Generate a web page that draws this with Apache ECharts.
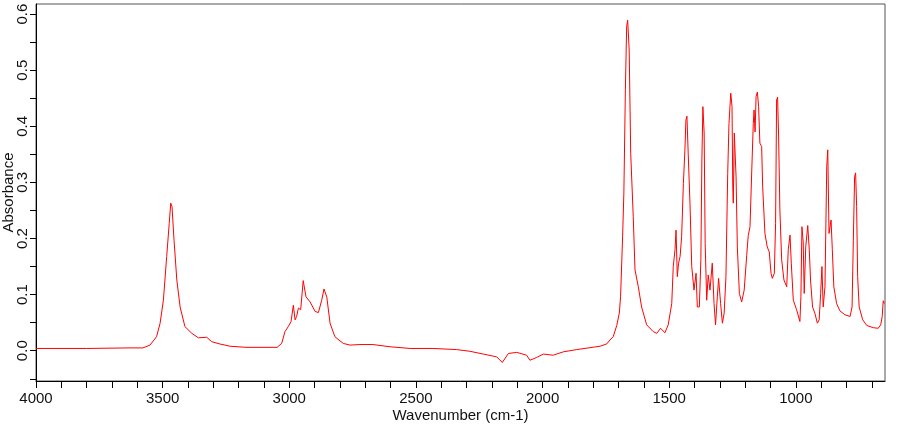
<!DOCTYPE html>
<html>
<head>
<meta charset="utf-8">
<script src="https://cdn.jsdelivr.net/npm/echarts@6/dist/echarts.min.js"></script>
<style>
  html, body { margin: 0; padding: 0; background: #fff; }
  #ir_chart { width: 910px; height: 425px; }
</style>
</head>
<body>
<div id="ir_chart"></div>
<script>
// IR spectrum values
var wavenumber = [
  4000, 3800, 3629, 3578, 3550, 3524, 3510, 3497, 3484, 3474, 3468, 3463, 3455, 3444, 3431, 3412,
  3385, 3359, 3326, 3306, 3274, 3234, 3171, 3048, 3030, 3017, 3004, 2993, 2984, 2977, 2971, 2964,
  2955, 2945, 2934, 2918, 2898, 2885, 2872, 2863, 2852, 2839, 2820, 2787, 2760, 2721, 2670, 2602,
  2523, 2433, 2339, 2287, 2234, 2181, 2159, 2135, 2102, 2063, 2050, 2023, 1997, 1958, 1918, 1865,
  1773, 1747, 1734, 1721, 1707, 1697, 1692, 1684, 1679, 1673, 1668, 1664, 1658, 1652, 1642, 1635,
  1622, 1609, 1589, 1563, 1549, 1534, 1517, 1504, 1490, 1484, 1477, 1473, 1468, 1463, 1457, 1451,
  1444, 1438, 1434, 1430, 1425, 1418, 1411, 1402, 1394, 1389, 1381, 1375, 1371, 1367, 1362, 1358,
  1352, 1346, 1339, 1330, 1323, 1317, 1310, 1305, 1297, 1290, 1283, 1276, 1269, 1264, 1257, 1252,
  1249, 1247, 1243, 1236, 1231, 1223, 1214, 1204, 1194, 1188, 1181, 1174, 1168, 1165, 1161, 1157,
  1152, 1147, 1142, 1135, 1131, 1122, 1113, 1105, 1098, 1093, 1085, 1080, 1076, 1072, 1068, 1063,
  1056, 1047, 1036, 1030, 1023, 1018, 1010, 997, 984, 980, 976, 971, 967, 961, 953, 947,
  942, 934, 925, 915, 908, 902, 897, 892, 885, 878, 874, 869, 861, 856, 850, 839,
  826, 806, 786, 778, 773, 768, 764, 760, 756, 750, 736, 720, 694, 675, 665, 659,
  655, 651
]
var absorbance = [
  0.004, 0.004, 0.005, 0.005, 0.010, 0.025, 0.049, 0.090, 0.168, 0.227, 0.263, 0.257, 0.197, 0.126, 0.078, 0.043,
  0.031, 0.023, 0.024, 0.016, 0.012, 0.008, 0.006, 0.006, 0.013, 0.034, 0.043, 0.052, 0.081, 0.055, 0.061, 0.076,
  0.073, 0.125, 0.096, 0.087, 0.070, 0.068, 0.090, 0.110, 0.096, 0.049, 0.025, 0.013, 0.010, 0.011, 0.011, 0.007,
  0.004, 0.004, 0.002, -0.001, -0.006, -0.011, -0.021, -0.005, -0.003, -0.008, -0.017, -0.012, -0.006, -0.008, -0.002, 0.002,
  0.008, 0.012, 0.019, 0.025, 0.045, 0.067, 0.096, 0.203, 0.281, 0.465, 0.578, 0.589, 0.536, 0.352, 0.239, 0.144,
  0.114, 0.078, 0.046, 0.034, 0.031, 0.040, 0.032, 0.046, 0.084, 0.150, 0.180, 0.215, 0.132, 0.156, 0.168, 0.203,
  0.298, 0.358, 0.411, 0.418, 0.352, 0.263, 0.150, 0.108, 0.138, 0.078, 0.078, 0.162, 0.340, 0.435, 0.388, 0.191,
  0.090, 0.135, 0.108, 0.156, 0.084, 0.046, 0.096, 0.129, 0.084, 0.049, 0.067, 0.132, 0.316, 0.405, 0.459, 0.435,
  0.292, 0.263, 0.388, 0.310, 0.185, 0.102, 0.087, 0.108, 0.170, 0.205, 0.221, 0.322, 0.405, 0.429, 0.390, 0.453,
  0.461, 0.435, 0.370, 0.364, 0.292, 0.209, 0.185, 0.176, 0.138, 0.129, 0.138, 0.227, 0.447, 0.452, 0.381, 0.251,
  0.162, 0.126, 0.114, 0.180, 0.206, 0.156, 0.090, 0.073, 0.052, 0.096, 0.221, 0.194, 0.102, 0.185, 0.223, 0.180,
  0.126, 0.078, 0.067, 0.049, 0.055, 0.102, 0.150, 0.078, 0.114, 0.328, 0.358, 0.209, 0.233, 0.180, 0.114, 0.084,
  0.071, 0.064, 0.061, 0.078, 0.197, 0.310, 0.317, 0.257, 0.132, 0.078, 0.055, 0.045, 0.041, 0.040, 0.046, 0.061,
  0.089, 0.084
]

// tick positions
var xTicks = [700, 800, 900, 1000, 1100, 1200, 1300, 1400, 1500, 1600, 1700, 1800, 1900, 2000,
  2100, 2200, 2300, 2400, 2500, 2600, 2700, 2800, 2900, 3000, 3100, 3200, 3300, 3400, 3500,
  3600, 3700, 3800, 3900, 4000]
var xLabels = [1000, 1500, 2000, 2500, 3000, 3500, 4000]
var yTicks = [-0.05, 0, 0.05, 0.1, 0.15, 0.2, 0.25, 0.3, 0.35, 0.4, 0.45, 0.5, 0.55, 0.6]
var yLabels = [0, 0.1, 0.2, 0.3, 0.4, 0.5, 0.6]

var spectrum = wavenumber.map(function (w, i) { return [w, absorbance[i]] })

var irChart = echarts.init(document.getElementById('ir_chart'))

var textFont = {
  color: '#111',
  fontSize: 15,
  fontFamily: "'Liberation Sans', Arial, sans-serif"
}

var option = {
  animation: false,
  grid: {
    left: 36,
    right: 25,
    top: 4,
    bottom: 44,
    containLabel: false,
    outerBoundsMode: 'none',
    show: true,
    borderColor: '#555',
    borderWidth: 1
  },
  xAxis: {
    type: 'value',
    inverse: true,
    min: 648,
    max: 4000,
    name: 'Wavenumber (cm-1)',
    nameLocation: 'middle',
    nameGap: 27,
    nameMoveOverlap: false,
    nameTextStyle: textFont,
    axisLine: { show: true, onZero: false, lineStyle: { color: '#000', width: 1 } },
    axisTick: { show: true, customValues: xTicks, length: 7, lineStyle: { color: '#000' } },
    axisLabel: Object.assign({
      customValues: xLabels,
      margin: 10,
      formatter: function (v) { return String(v) }
    }, textFont),
    splitLine: { show: false }
  },
  yAxis: {
    type: 'value',
    min: -0.054,
    max: 0.618,
    name: 'Absorbance',
    nameLocation: 'middle',
    nameGap: 20,
    nameMoveOverlap: false,
    nameTextStyle: textFont,
    axisLine: { show: true, onZero: false, lineStyle: { color: '#000', width: 1 } },
    axisTick: { show: true, customValues: yTicks, length: 6, lineStyle: { color: '#000' } },
    axisLabel: Object.assign({
      customValues: yLabels,
      rotate: 90,
      margin: 6,
      formatter: function (v) { return v.toFixed(1) }
    }, textFont),
    splitLine: { show: false }
  },
  series: [
    {
      type: 'line',
      data: spectrum,
      showSymbol: false,
      lineStyle: { color: '#ff0000', width: 1 }
    }
  ]
}

irChart.setOption(option)
</script>
</body>
</html>
